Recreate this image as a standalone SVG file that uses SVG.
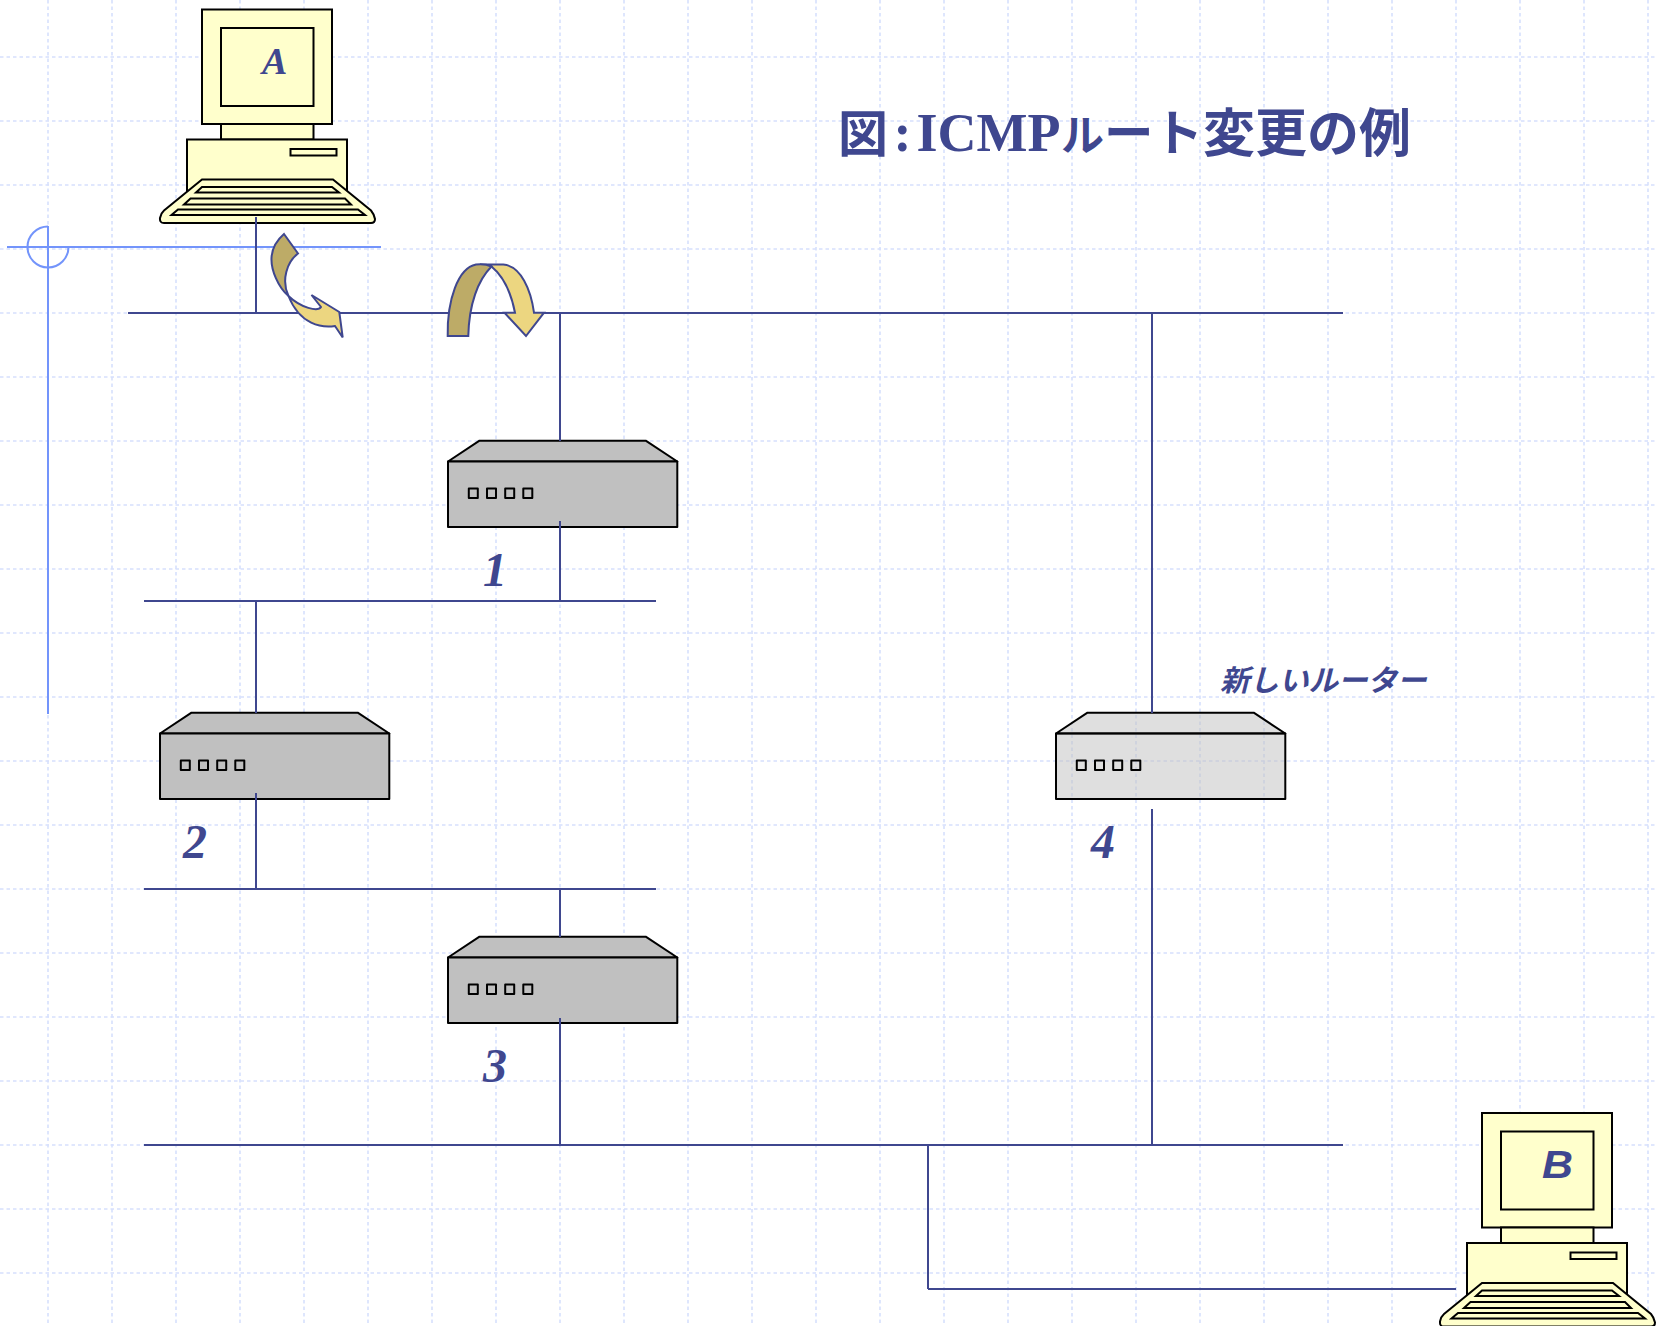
<svg xmlns="http://www.w3.org/2000/svg" width="1656" height="1326" viewBox="0 0 1656 1326">
<style>
.grid line{stroke:#d6e0fd;stroke-width:1.6;stroke-dasharray:3.500 3}
.guide{stroke:#7394fb;stroke-width:2;fill:none}
.net line{stroke:#3f478f;stroke-width:2}
.pc{fill:#ffffcc;stroke:#000;stroke-width:2;stroke-linejoin:miter}
.rt{stroke:#000;stroke-width:2;fill:#c0c0c0;stroke-linejoin:round}
.rtn{stroke:#000;stroke-width:2;fill:#c0c0c0;fill-opacity:.5;stroke-linejoin:round}
.port{fill:none;stroke:#000;stroke-width:2}
.lbl{font-family:"Liberation Serif","Noto Sans CJK JP",serif;font-weight:bold;font-style:italic;fill:#3f478f}
.tan{fill:#bdab67;stroke:#3f478f;stroke-width:2;stroke-linejoin:miter}
.yel{fill:#ecd680;stroke:#3f478f;stroke-width:2;stroke-linejoin:miter}
</style>
<defs>
<g id="computer">
<rect class="pc" x="202" y="9.500" width="130" height="114.500"/>
<rect class="pc" x="221" y="28" width="92.500" height="78"/>
<rect class="pc" x="221" y="124" width="92.500" height="15.500"/>
<rect class="pc" x="187" y="139.500" width="160" height="52"/>
<rect class="pc" x="290.500" y="149" width="46" height="6.500"/>
<path class="pc" d="M202,179.500H333L371,210.500Q374,214 375,219Q375,223 371,223H164Q159.500,223 160,218Q161,213 164,210.500Z"/>
<polygon class="pc" points="202,187 332,187 339,192.500 196,192.500"/>
<polygon class="pc" points="190.500,198.500 345,198.500 351,204.500 184,204.500"/>
<polygon class="pc" points="178,209.500 358,209.500 365,215 171.500,215"/>
</g>
<g id="router-body">
<polygon points="448,461.500 479.500,440.700 645.700,440.700 677.300,461.500"/>
<rect x="448" y="461.500" width="229.300" height="65.500"/>
<g class="port">
<rect x="468.800" y="488.500" width="9" height="9.500"/>
<rect x="487" y="488.500" width="9" height="9.500"/>
<rect x="505.200" y="488.500" width="9" height="9.500"/>
<rect x="523.300" y="488.500" width="9" height="9.500"/>
</g>
</g>
</defs>
<rect width="1656" height="1326" fill="#fff"/>
<g class="grid" id="grid">
<line x1="48" y1="0" x2="48" y2="1326"/><line x1="112" y1="0" x2="112" y2="1326"/><line x1="176" y1="0" x2="176" y2="1326"/><line x1="240" y1="0" x2="240" y2="1326"/><line x1="304" y1="0" x2="304" y2="1326"/><line x1="368" y1="0" x2="368" y2="1326"/><line x1="432" y1="0" x2="432" y2="1326"/><line x1="496" y1="0" x2="496" y2="1326"/><line x1="560" y1="0" x2="560" y2="1326"/><line x1="624" y1="0" x2="624" y2="1326"/><line x1="688" y1="0" x2="688" y2="1326"/><line x1="752" y1="0" x2="752" y2="1326"/><line x1="816" y1="0" x2="816" y2="1326"/><line x1="880" y1="0" x2="880" y2="1326"/><line x1="944" y1="0" x2="944" y2="1326"/><line x1="1008" y1="0" x2="1008" y2="1326"/><line x1="1072" y1="0" x2="1072" y2="1326"/><line x1="1136" y1="0" x2="1136" y2="1326"/><line x1="1200" y1="0" x2="1200" y2="1326"/><line x1="1264" y1="0" x2="1264" y2="1326"/><line x1="1328" y1="0" x2="1328" y2="1326"/><line x1="1392" y1="0" x2="1392" y2="1326"/><line x1="1456" y1="0" x2="1456" y2="1326"/><line x1="1520" y1="0" x2="1520" y2="1326"/><line x1="1584" y1="0" x2="1584" y2="1326"/><line x1="1648" y1="0" x2="1648" y2="1326"/>
<line x1="0" y1="57" x2="1656" y2="57"/><line x1="0" y1="121" x2="1656" y2="121"/><line x1="0" y1="185" x2="1656" y2="185"/><line x1="0" y1="249" x2="1656" y2="249"/><line x1="0" y1="313" x2="1656" y2="313"/><line x1="0" y1="377" x2="1656" y2="377"/><line x1="0" y1="441" x2="1656" y2="441"/><line x1="0" y1="505" x2="1656" y2="505"/><line x1="0" y1="569" x2="1656" y2="569"/><line x1="0" y1="633" x2="1656" y2="633"/><line x1="0" y1="697" x2="1656" y2="697"/><line x1="0" y1="761" x2="1656" y2="761"/><line x1="0" y1="825" x2="1656" y2="825"/><line x1="0" y1="889" x2="1656" y2="889"/><line x1="0" y1="953" x2="1656" y2="953"/><line x1="0" y1="1017" x2="1656" y2="1017"/><line x1="0" y1="1081" x2="1656" y2="1081"/><line x1="0" y1="1145" x2="1656" y2="1145"/><line x1="0" y1="1209" x2="1656" y2="1209"/><line x1="0" y1="1273" x2="1656" y2="1273"/>
</g>
<g id="guide">
<line class="guide" x1="7" y1="247" x2="381" y2="247"/>
<line class="guide" x1="48" y1="226" x2="48" y2="714"/>
<path class="guide" d="M48,226.500A20.500,20.500 0 1 0 68.500,247"/>
</g>
<g id="pc-a"><use href="#computer"/><text class="lbl" x="262" y="74" font-size="38">A</text></g>
<g id="pc-b"><use href="#computer" x="1280" y="1103.500"/><text x="1542" y="1178" font-size="38" textLength="31" lengthAdjust="spacingAndGlyphs" font-family="Liberation Sans, sans-serif" font-weight="bold" font-style="italic" fill="#3f478f">B</text></g>
<g id="router-1" class="rt"><use href="#router-body"/></g>
<g id="router-2" class="rt"><use href="#router-body" x="-288" y="272"/></g>
<g id="router-3" class="rt"><use href="#router-body" y="496"/></g>
<g id="router-4" class="rtn"><use href="#router-body" x="608" y="272"/></g>
<g id="connectors" class="net">
<line x1="128" y1="313" x2="1343" y2="313"/>
<line x1="144" y1="601" x2="656" y2="601"/>
<line x1="144" y1="889" x2="656" y2="889"/>
<line x1="144" y1="1145" x2="1343" y2="1145"/>
<line x1="256" y1="217" x2="256" y2="313"/>
<line x1="560" y1="313" x2="560" y2="441"/>
<line x1="560" y1="521" x2="560" y2="601"/>
<line x1="256" y1="601" x2="256" y2="713"/>
<line x1="256" y1="793" x2="256" y2="889"/>
<line x1="560" y1="889" x2="560" y2="937"/>
<line x1="560" y1="1018" x2="560" y2="1145"/>
<line x1="1152" y1="313" x2="1152" y2="713"/>
<line x1="1152" y1="809" x2="1152" y2="1145"/>
<line x1="928" y1="1145" x2="928" y2="1289"/>
<line x1="928" y1="1289" x2="1456" y2="1289"/>
</g>
<g id="arrow-down">
<path class="yel" d="M288.500,296C301,308 318,312 321,307L311.500,295L339.300,312L342.700,337.500L335,326C322,328 300,325 288.500,296Z"/>
<path class="tan" d="M284,234L298,253.500C287,262 281,280 288.500,296C278,287 271,270 271.500,258C272,248 277,240 284,234Z"/>
</g>
<g id="arrow-loop">
<path class="yel" d="M480,264.500H503.300C521,266 531,290 534,312.700H544L526,336L504.500,312.700H515C511,292 503,276 491.500,266.500C488,265 484,264.500 480,264.500Z"/>
<path class="tan" d="M447.700,336H468.300C469,304 478,280 491.500,266.500C486,264 480,264 476,264.500C458,268 447,300 447.700,336Z"/>
</g>
<text id="title" y="152" fill="#3f478f" font-weight="bold" font-family="Noto Sans CJK JP, sans-serif" font-size="52"><tspan x="838" font-size="50">図</tspan><tspan x="893.500" y="151" font-family="Liberation Serif, serif" font-size="54">:</tspan><tspan x="916.500" y="151" font-family="Liberation Serif, serif" font-size="54">ICMP</tspan><tspan x="1061" y="151" font-size="43">ル</tspan><tspan x="1104" y="151" font-size="49.500">ート</tspan><tspan x="1203" y="152">変更の例</tspan></text>
<text class="lbl" x="483" y="586" font-size="48">1</text>
<text class="lbl" x="183" y="858" font-size="48">2</text>
<text class="lbl" x="483" y="1082" font-size="48">3</text>
<text class="lbl" x="1091" y="858" font-size="48">4</text>
<text x="1220" y="691" font-size="29.500" font-family="Noto Sans CJK JP, sans-serif" font-weight="bold" font-style="italic" fill="#3f478f">新しいルーター</text>
</svg>
